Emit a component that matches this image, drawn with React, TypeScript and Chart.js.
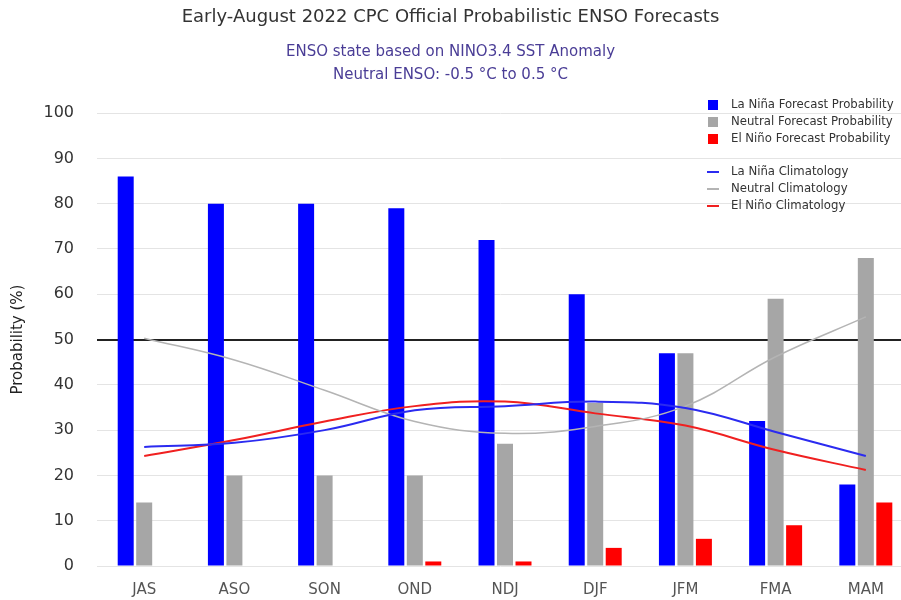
import React, { useEffect, useRef } from "react";
import { Chart, registerables } from "chart.js";

Chart.register(...registerables);

const seasons = ["JAS", "ASO", "SON", "OND", "NDJ", "DJF", "JFM", "FMA", "MAM"];
const laNinaProb = [86, 80, 80, 79, 72, 60, 47, 32, 18];
const neutralProb = [14, 20, 20, 20, 27, 36, 47, 59, 68];
const elNinoProb = [0, 0, 0, 1, 1, 4, 6, 9, 14];
const laNinaClim = [26.3, 27.2, 30, 34.4, 35.3, 36.3, 34.9, 29.6, 24.3];
const neutralClim = [50.3, 45.5, 38.8, 31.9, 29.3, 30.8, 35.3, 46.2, 55];
const elNinoClim = [24.3, 27.8, 31.9, 35.3, 36.3, 33.7, 31, 25.6, 21.2];
const yTickValues = [0, 10, 20, 30, 40, 50, 60, 70, 80, 90, 100];

const titleText = "Early-August 2022 CPC Official Probabilistic ENSO Forecasts";
const subtitleLines = ["ENSO state based on NINO3.4 SST Anomaly", "Neutral ENSO: -0.5 °C to 0.5 °C"];
const yAxisTitle = "Probability (%)";

const FONT = "'DejaVu Sans', 'Open Sans', sans-serif";
const LEGEND_FONT = "'DejaVu Sans Condensed', 'Liberation Sans Narrow', Roboto, sans-serif";

const toPoints = (arr: number[]) => arr.map((v, i) => ({ x: i, y: v }));

const customLegend = {
  id: "customLegend",
  afterDraw(chart: any) {
    const ctx = chart.ctx;
    const ds = chart.data.datasets;
    const x0 = 707;
    const textX = 731;
    const barRows = [105, 122, 139];
    const lineRows = [172, 189, 206];
    ctx.save();
    ctx.font = `13px ${LEGEND_FONT}`;
    ctx.textBaseline = "middle";
    ctx.textAlign = "left";
    let b = 0;
    let l = 0;
    ds.forEach((d: any) => {
      if (d.type === "bar") {
        const y = barRows[b++];
        ctx.fillStyle = d.backgroundColor;
        ctx.fillRect(x0 + 1, y - 5, 10, 10);
        ctx.fillStyle = "#333";
        ctx.fillText(d.label, textX, y);
      } else {
        const y = lineRows[l++];
        ctx.strokeStyle = d.borderColor;
        ctx.lineWidth = 2;
        ctx.beginPath();
        ctx.moveTo(x0, y);
        ctx.lineTo(x0 + 12, y);
        ctx.stroke();
        ctx.fillStyle = "#333";
        ctx.fillText(d.label, textX, y);
      }
    });
    ctx.restore();
  },
};

export default function App() {
  const ref = useRef<HTMLCanvasElement | null>(null);
  useEffect(() => {
    if (!ref.current) return;
    const chart = new Chart(ref.current, {
      type: "bar",
      data: {
        datasets: [
          {
            type: "line",
            label: "La Niña Climatology",
            data: toPoints(laNinaClim),
            borderColor: "#2b2bf0",
            borderWidth: 2,
            pointRadius: 0,
            tension: 0.4,
            fill: false,
            order: 0,
          } as any,
          {
            type: "line",
            label: "Neutral Climatology",
            data: toPoints(neutralClim),
            borderColor: "#b4b4b4",
            borderWidth: 1.5,
            pointRadius: 0,
            tension: 0.4,
            fill: false,
            order: 0,
          } as any,
          {
            type: "line",
            label: "El Niño Climatology",
            data: toPoints(elNinoClim),
            borderColor: "#f02020",
            borderWidth: 2,
            pointRadius: 0,
            tension: 0.4,
            fill: false,
            order: 0,
          } as any,
          {
            type: "bar",
            label: "La Niña Forecast Probability",
            data: toPoints(laNinaProb),
            backgroundColor: "#0000ff",
            categoryPercentage: 0.615,
            barPercentage: 0.865,
            order: 1,
          } as any,
          {
            type: "bar",
            label: "Neutral Forecast Probability",
            data: toPoints(neutralProb),
            backgroundColor: "#a6a6a6",
            categoryPercentage: 0.615,
            barPercentage: 0.865,
            order: 1,
          } as any,
          {
            type: "bar",
            label: "El Niño Forecast Probability",
            data: toPoints(elNinoProb),
            backgroundColor: "#ff0000",
            categoryPercentage: 0.615,
            barPercentage: 0.865,
            order: 1,
          } as any,
        ],
      },
      options: {
        responsive: false,
        animation: false,
        devicePixelRatio: 1,
        layout: { padding: { left: 0, right: 0, top: 0, bottom: 0 } },
        plugins: {
          legend: { display: false },
          tooltip: { enabled: false },
          title: {
            display: true,
            text: titleText,
            color: "#333333",
            font: { family: FONT, size: 18, weight: "normal" as any, lineHeight: 1.2 },
            padding: { top: 7, bottom: 12 },
          },
          subtitle: {
            display: true,
            text: subtitleLines,
            color: "#4a3d96",
            font: { family: FONT, size: 15, weight: "normal" as any, lineHeight: 23 / 15 },
            padding: { top: 0, bottom: 26.5 },
          },
        },
        scales: {
          x: {
            type: "linear",
            min: -0.49,
            max: 8.39,
            offset: false,
            grid: { display: false, drawTicks: false },
            border: { display: false },
            afterBuildTicks: (s: any) => {
              s.ticks = seasons.map((_, i) => ({ value: i }));
            },
            afterFit: (s: any) => {
              s.height = 34;
            },
            ticks: {
              autoSkip: false,
              maxRotation: 0,
              padding: 15,
              color: "#555555",
              font: { family: FONT, size: 15 },
              callback: (v: any) => seasons[Math.round(Number(v))] ?? "",
            },
          },
          y: {
            type: "linear",
            min: 0,
            max: 100,
            afterFit: (s: any) => {
              s.width = 100;
            },
            afterBuildTicks: (s: any) => {
              s.ticks = yTickValues.map((v) => ({ value: v }));
            },
            border: { display: false },
            grid: {
              tickLength: 3,
              color: (c: any) => (c.tick && c.tick.value === 50 ? "#222222" : "#e4e4e4"),
              lineWidth: (c: any) => (c.tick && c.tick.value === 50 ? 2 : 1),
            },
            ticks: {
              padding: 23,
              color: "#333333",
              font: { family: FONT, size: 16 },
            },
            title: {
              display: true,
              text: yAxisTitle,
              color: "#222222",
              font: { family: FONT, size: 15 },
              padding: { top: 9, bottom: 0 },
            },
          },
        },
      },
      plugins: [customLegend],
    });
    return () => chart.destroy();
  }, []);

  return (
    <div style={{ position: "fixed", left: 0, top: 0, width: 901, height: 600, background: "#fff" }}>
      <canvas ref={ref} width={901} height={600} />
    </div>
  );
}
